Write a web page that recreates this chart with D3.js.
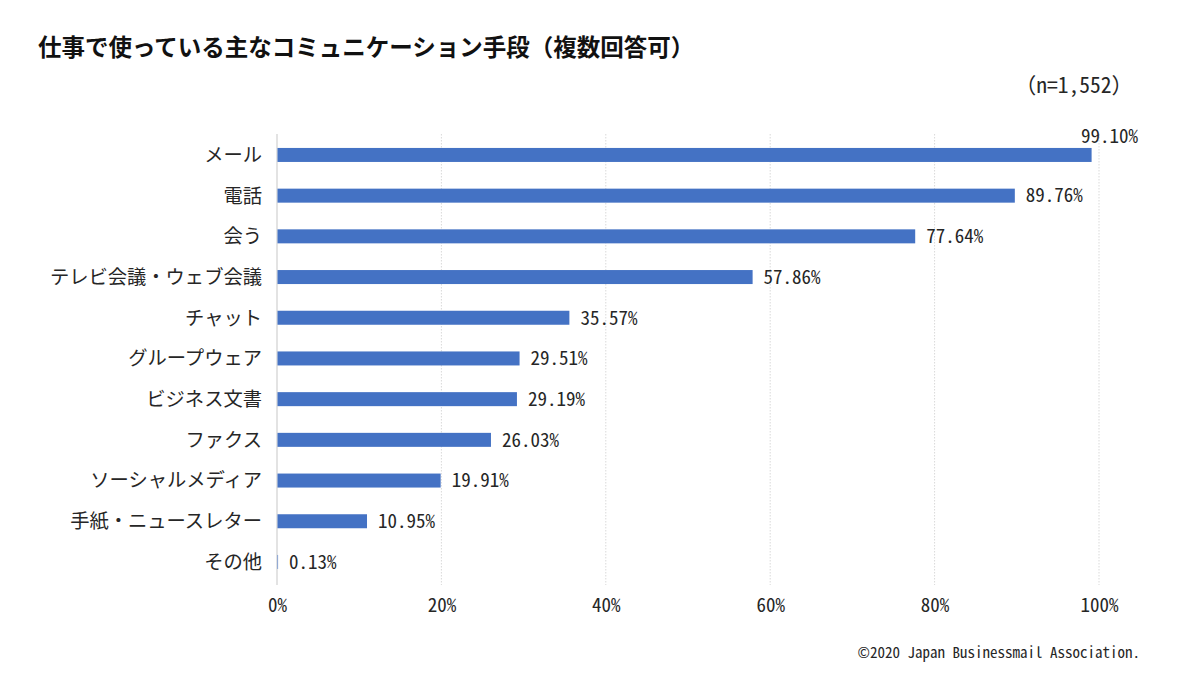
<!DOCTYPE html>
<html><head><meta charset="utf-8">
<script src="https://cdn.jsdelivr.net/npm/d3@7"></script>
<style>
html,body{margin:0;padding:0;background:#fff;}
svg{display:block;}
.mono{font-family:"Noto Sans Mono CJK JP","Liberation Mono",monospace;}
.jp{font-family:"Noto Sans CJK JP","Noto Sans",sans-serif;}
</style></head>
<body>
<svg id="chart" width="1182" height="696"></svg>
<script>
const categories = ["メール","電話","会う","テレビ会議・ウェブ会議","チャット","グループウェア","ビジネス文書","ファクス","ソーシャルメディア","手紙・ニュースレター","その他"];
const values = [99.10, 89.76, 77.64, 57.86, 35.57, 29.51, 29.19, 26.03, 19.91, 10.95, 0.13];
const tickValues = [0, 20, 40, 60, 80, 100];
const title = "仕事で使っている主なコミュニケーション手段（複数回答可）";
const sampleNote = "（n=1,552）";
const credit = "©2020 Japan Businessmail Association.";

const svg = d3.select("#chart");
const textColor = "#262626";
const barColor = "#4472C4";

const x = d3.scaleLinear().domain([0, 100]).range([277, 1099]);
const y = d3.scaleBand().domain(categories).range([134.6, 582.3]).paddingInner(0.656).paddingOuter(0.328);

// title
svg.append("text").attr("class","jp").attr("x",38).attr("y",56)
  .attr("font-size",23.5).attr("font-weight","bold").attr("fill","#111").text(title);
// n note
svg.append("text").attr("class","mono").attr("x",1133).attr("y",93).attr("text-anchor","end")
  .attr("font-size",21.5).attr("fill",textColor).text(sampleNote);

// gridlines
svg.append("g").selectAll("line").data(tickValues.filter(d=>d>0)).join("line")
  .attr("x1",d=>x(d)).attr("x2",d=>x(d)).attr("y1",134).attr("y2",585)
  .attr("stroke","#d9d9d9").attr("stroke-width",1).attr("stroke-dasharray","1.5,1.5");
// zero axis line
svg.append("line").attr("x1",x(0)).attr("x2",x(0)).attr("y1",134).attr("y2",585)
  .attr("stroke","#d0d0d0").attr("stroke-width",1.2);

// bars
svg.append("g").selectAll("rect").data(values).join("rect")
  .attr("x",x(0)+0.5).attr("y",(d,i)=>y(categories[i]))
  .attr("width",d=>Math.max(0,x(d)-x(0)-0.5)).attr("height",y.bandwidth())
  .attr("fill",barColor);

// category labels
svg.append("g").selectAll("text").data(categories).join("text")
  .attr("class","jp").attr("x",262).attr("y",d=>y(d)+y.bandwidth()/2)
  .attr("dy","0.36em").attr("text-anchor","end").attr("font-size",19.3).attr("fill",textColor)
  .text(d=>d);

// value labels
svg.append("g").selectAll("text").data(values).join("text")
  .attr("class","mono")
  .attr("x",(d,i)=> i===0 ? 1138 : x(d)+11)
  .attr("y",(d,i)=> i===0 ? y(categories[i]) - 12 : y(categories[i])+y.bandwidth()/2)
  .attr("dy","0.36em")
  .attr("text-anchor",(d,i)=> i===0 ? "end" : "start")
  .attr("font-size",19).attr("fill",textColor)
  .text(d=>d3.format(".2f")(d)+"%");

// x axis
const axis = d3.axisBottom(x).tickValues(tickValues).tickSize(0).tickPadding(0).tickFormat(d=>d+"%");
const gx = svg.append("g").attr("transform","translate(0,598)").call(axis);
gx.select(".domain").remove();
gx.selectAll("text").attr("class","mono").attr("font-size",19).attr("fill",textColor)
  .attr("font-family",null).attr("dy","0.71em");

// credit
svg.append("text").attr("class","mono").attr("x",1140).attr("y",658).attr("text-anchor","end")
  .attr("font-size",15).attr("fill",textColor).text(credit);
</script>
</body></html>
